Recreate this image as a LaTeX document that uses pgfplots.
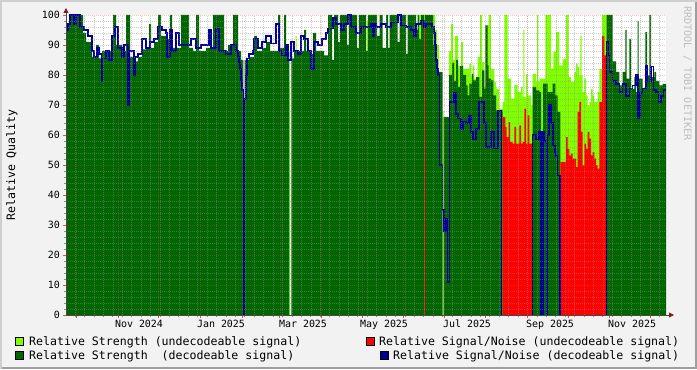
\documentclass[border=0pt]{standalone}
\usepackage{fontspec}
\setmainfont{DejaVu Sans Mono}
\usepackage{pgfplots}
\pgfplotsset{compat=1.18}
\usetikzlibrary{arrows.meta}
\definecolor{bgc}{HTML}{F2F2F2}
\definecolor{shadea}{HTML}{CFCFCF}
\definecolor{shadeb}{HTML}{9E9E9E}
\definecolor{dgreen}{HTML}{006600}
\definecolor{lgreen}{HTML}{80FF00}
\definecolor{sred}{HTML}{FF0000}
\definecolor{sblue}{HTML}{000099}
\definecolor{gridc}{HTML}{8F8F8F}
\definecolor{mgridc}{HTML}{DE5050}
\definecolor{axisc}{HTML}{4A4A4A}
\definecolor{arrowc}{HTML}{7F1F1F}
\definecolor{wmark}{HTML}{BEBEBE}
\newcommand\lfont{\fontsize{11.63}{14}\selectfont}
\newcommand\tfont{\fontsize{10}{12}\selectfont}
\begin{document}
\begin{tikzpicture}[x=1bp,y=1bp]
\useasboundingbox (0,0) rectangle (697,369);
\fill[bgc] (0,0) rectangle (697,369);
\fill[shadea] (0,367) rectangle (697,369);
\fill[shadea] (0,0) rectangle (2,369);
\fill[shadeb] (2,0) rectangle (697,2);
\fill[shadeb] (695,0) rectangle (697,367);
\begin{axis}[
  at={(66bp,54bp)}, anchor=south west,
  scale only axis, width=600bp, height=300bp,
  xmin=0, xmax=600, ymin=0, ymax=100,
  axis on top,
  axis x line*=bottom, axis y line*=left,
  axis background/.style={fill=white},
  x axis line style={draw=axisc, line width=0.8bp, shorten >=-8bp, -{Triangle[length=5bp,width=5bp,color=arrowc,fill=arrowc]}},
  y axis line style={draw=axisc, line width=0.8bp, shorten >=-7bp, -{Triangle[length=5bp,width=5bp,color=arrowc,fill=arrowc]}},
  xtick={10.5,52.2,92.6,134.4,176.1,213.8,255.5,295.9,337.6,378.0,419.7,461.5,501.9,543.6,584.0},
  xticklabels={},
  minor xtick={9.2,18.623,...,600},
  extra x ticks={73,155,237,318,401,484,566},
  extra x tick labels={Nov 2024,Jan 2025,Mar 2025,May 2025,Jul 2025,Sep 2025,Nov 2025},
  extra x tick style={grid=none, major tick length=0pt},
  ytick={0,10,...,100},
  minor y tick num=4,
  grid=both,
  major grid style={draw=mgridc, draw opacity=0.3, line width=0.5bp, dash pattern=on 1bp off 1bp},
  minor grid style={draw=gridc, draw opacity=0.45, line width=0.5bp, dash pattern=on 1bp off 1bp},
  tick align=outside,
  major tick length=3bp, minor tick length=2bp,
  major tick style={draw=mgridc, line width=0.8bp},
  minor tick style={draw=gridc, line width=0.8bp},
  tick label style={font=\tfont, text=black},
  /pgf/number format/assume math mode=true,
  yticklabel style={inner sep=0pt, xshift=-3bp},
  xticklabel style={inner sep=0pt, yshift=-5bp},
]
% Relative Strength (undecodeable)
\addplot[const plot, fill=lgreen, draw=none] coordinates {
(0,0)(177.3,71)(178.7,0)(223.3,78)(224,0)(229.5,93)(230.7,0)(300.7,98)(302.3,0)(306.7,100)(308.3,0)(353,100)(360,0)(367,100)(369,95)(371,90)(373,0)(376.5,68)(377.5,0)(383,88)(385,97)(387,85)(389,93)(392,83)(395,91)(397,82)(400,82.1)(403.3,83.8)(405,79.9)(406.7,83.2)(408.3,78.8)(411.7,86)(414,100)(416,84.3)(418.3,76)(420.7,96.5)(422.7,100)(425,82)(428.3,77.7)(430,75.4)(433.3,68.8)(436.7,71)(438.3,100)(441.7,78.8)(445,72.1)(448.3,76.6)(451.7,74.3)(455,76)(456.7,72.7)(457.3,95)(458.3,72.7)(460,80.4)(461.7,73.2)(465,69.9)(466.7,80.4)(470,77.7)(471,100)(472.3,77.7)(473.3,78.8)(479.3,100)(485,82.1)(487.3,87.7)(490,94.3)(493.3,83.2)(496.7,85.4)(500,100)(502.7,79.3)(505,77.7)(508.3,81)(510,83.8)(511.7,82.7)(513.3,79.9)(514.3,93)(515.7,79.9)(516.7,74.3)(518.3,78.8)(520,73.2)(521.7,69.9)(523.3,71)(525,75.4)(526.7,73.2)(528.3,71)(531.7,74.3)(533.3,82.1)(536,100)(541,0)(600,0)
} \closedcycle;
% Relative Strength (decodeable)
\addplot[const plot, fill=dgreen, draw=none] coordinates {
(0,95)(3,100)(17,94)(20,91)(26,86)(30,90)(33,85.5)(36,88)(47,100)(50,90)(56,88)(60,100)(64,86)(68,84.5)(72,86)(76,88.5)(80,89)(83,97)(85,89)(88,91)(92,100)(95,93)(100,92)(104,100)(106,89)(115,100)(123,89)(127,88)(130,100)(133,88)(140,89)(147,100)(158,88)(162,90)(167,100)(172,88)(175,85)(177.3,0)(178.7,85)(183,86)(188,93)(191,88)(196,89)(200,91)(204,88)(212,100)(214,89)(218,100)(220,88)(223.3,0)(225.3,85.5)(228,88)(238,95)(240,88)(245,87)(247,94)(250,88)(258,86.5)(262,100)(266,85)(268,100)(272,91)(274,100)(281,90)(283,100)(291,89)(293,100)(300,88)(302,100)(311,93)(313.5,100)(316.5,89)(320,100)(322,89)(323.5,100)(331.5,91)(333.5,100)(340,87)(341.7,100)(350,95)(351.7,100)(353,92)(355,100)(358,0)(359,100)(367,90)(369,85)(371,81)(376.5,0)(377.5,66)(383,80)(386,84)(388,78)(390,85)(392,76)(394,83)(397,80)(400,76.5)(401.7,73.2)(403.3,77.1)(406,80.4)(407.3,78.2)(410,79.3)(413.3,72.7)(416,81.5)(418.3,75.4)(419.3,96.5)(421.7,83.2)(422.7,78.8)(425,78.2)(427.3,73.2)(430,68.2)(436.7,0)(466.7,76)(470,74.9)(473.3,74.3)(475,0)(477,77.1)(481.7,74.3)(486.7,77.1)(489.3,73.2)(491.7,67.7)(494.3,0)(540.7,100)(546.7,84.5)(550,81)(553.3,76.5)(556.7,81)(559.3,95)(560.7,78.8)(563.3,92)(565,75.4)(568.3,79.3)(570,74.3)(571.7,98)(572.7,78.8)(576.7,75.4)(579.3,94.3)(581,79.9)(583.3,100)(585,79.3)(588.3,81)(590,78)(593.3,76.5)(596.7,77)(600,77)
} \closedcycle;
% Relative Signal/Noise (undecodeable)
\addplot[const plot, fill=sred, draw=none] coordinates {
(0,0)(358,96)(359,0)(436.7,66)(439.3,62.7)(440.7,59.3)(442.7,64.3)(444,57.7)(446.7,57.1)(448.3,62.7)(450,57.1)(453.3,63.2)(455,57.1)(456.7,57.7)(458.3,68.8)(460,57.1)(461.7,66.5)(463.3,57.1)(466.7,0)(475,61)(477,0)(494.3,51)(500,59.3)(501.7,55.4)(503.3,53.2)(505,53.8)(506.7,52.1)(510,49.3)(511.7,67.7)(513.3,71)(515,61)(516.7,49.9)(518.3,57.1)(520,55.4)(521.7,61)(523.3,58.8)(525,53.2)(526.7,54.3)(528.3,52.1)(530,49.9)(531.7,48.8)(533.3,71)(536,93)(538.3,86.5)(540.7,0)(600,0)
} \closedcycle;
% Relative Signal/Noise (decodeable)
\addplot[const plot, draw=sblue, line width=1.2bp] coordinates {
(0,95)(2,97)(4,100)(8,97)(10,100)(14,96)(18,95)(22,93)(26,88)(28,86)(31,89)(33,87)(35.5,78)(36.5,85.5)(40,88)(43,85)(46,93)(49,96)(52,89)(56,86)(58,90)(62,70)(63.3,88)(68,80)(69,86)(72,87)(76,92)(80,89)(84,91)(88,92)(92,96)(96,95)(100,94)(101,86)(104,95)(106,88)(110,94)(113,90)(125,92)(130,89)(135,90)(143,95)(145,89)(150,95.5)(153,88)(160,87)(165,90)(170,88)(172,86)(173,84)(174,82)(175,78)(176,75)(177.3,-3)(178.7,72)(180,80)(181,85.5)(183,87)(187,88)(188,92)(192,89)(196,91)(200,93)(205,90.5)(210,97)(213,88)(216,86.5)(220,90)(222,85)(225,91)(228,88)(232,87)(235,93)(238,92)(242,88)(245,82)(248,91)(252,90)(256,92)(260,94)(262,95.5)(267,99)(270,97)(275,95)(278,97)(282,100)(285,96)(290,94)(295,96)(300,96)(305,97)(307,92.7)(308.5,97)(310,96)(315,97)(320,96)(325,97.5)(332,100)(335,96.5)(340,96)(345,95)(348,93)(350,97)(355,98)(358,96)(360,97)(366,96)(368,94)(369,90)(370,85)(371,82)(372,80)(373.3,50)(376.5,35)(378,28)(380,32)(381.5,11)(383.3,71)(388,74)(390,67)(392,65.5)(395,62)(397,64.5)(400,64)(403,66.5)(405,61)(407,58.5)(410,62)(413,71)(418,64)(420,56)(425,61)(428,55.5)(432,68)(435.7,-3)(466.7,60)(470,58.5)(473,61)(475,-3)(477,61)(478,58)(480.5,-3)(481.5,60)(483,70)(485,64)(487,56.5)(489,54)(490,53)(491.5,46.5)(494,-3)(540.7,91)(542.5,86.5)(543.3,81)(546.7,78)(550,77)(553.3,74.3)(556.7,77)(560,73)(563.3,75.4)(566.7,76.5)(570,80)(572,65.5)(574,74)(576.7,75.5)(580,83)(581.7,77.7)(585,82.7)(587.3,75)(590,74.3)(592.7,71)(595,73)(597.3,75)(600,75)
};
\end{axis}
% y label
\node[rotate=90, font=\lfont, inner sep=0pt] at (12,204) {Relative Quality};
% watermark
\node[rotate=-90, font=\fontsize{10.2}{12}\selectfont, text=wmark, inner sep=0pt] at (687.5,295.5) {RRDTOOL / TOBI OETIKER};
% legend
\filldraw[fill=lgreen, draw=black, line width=0.8bp] (15,24) rectangle (23,32);
\node[anchor=base west, inner sep=0pt, font=\lfont] at (29,24) {Relative Strength (undecodeable signal)};
\filldraw[fill=dgreen, draw=black, line width=0.8bp] (15,10) rectangle (23,18);
\node[anchor=base west, inner sep=0pt, font=\lfont] at (29,10) {Relative Strength\ \ (decodeable signal)};
\filldraw[fill=sred, draw=black, line width=0.8bp] (366,24) rectangle (374,32);
\node[anchor=base west, inner sep=0pt, font=\lfont] at (379,24) {Relative Signal/Noise (undecodeable signal)};
\filldraw[fill=sblue, draw=black, line width=0.8bp] (380,10) rectangle (388,18);
\node[anchor=base west, inner sep=0pt, font=\lfont] at (393,10) {Relative Signal/Noise (decodeable signal)};
\end{tikzpicture}
\end{document}
